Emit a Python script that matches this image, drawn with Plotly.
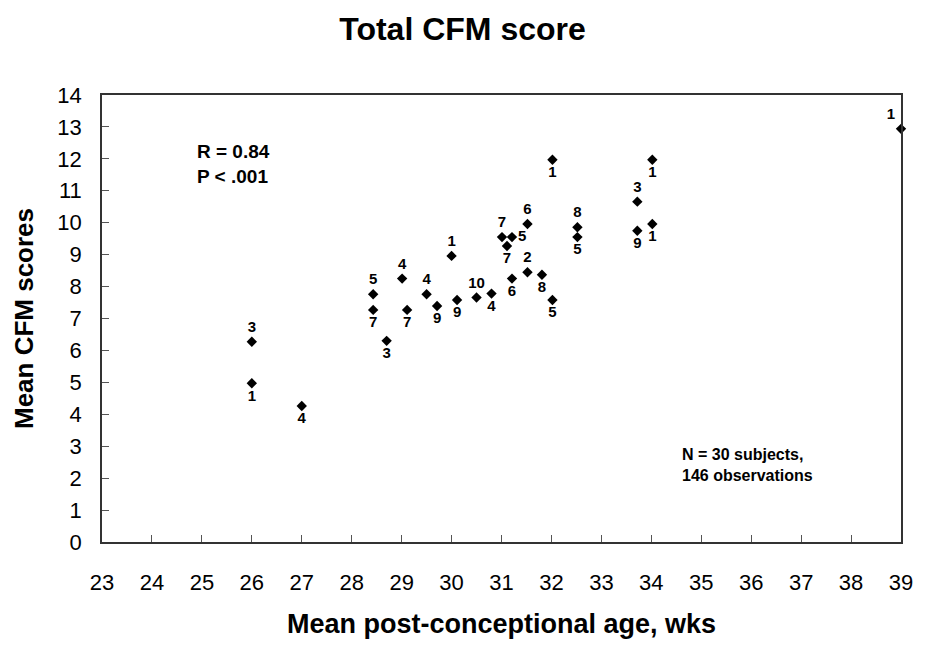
import plotly.graph_objects as go

# ---- data ----
age = [26.0, 26.0, 27.0, 28.43, 28.43, 28.7, 29.01, 29.11, 29.5, 29.71,
       30.0, 30.11, 30.5, 30.8, 31.01, 31.11, 31.21, 31.21, 31.52, 31.52,
       31.81, 32.02, 32.02, 32.52, 32.52, 33.72, 33.72, 34.02, 34.02, 39.0]
score = [6.27, 4.97, 4.26, 7.76, 7.27, 6.3, 8.25, 7.27, 7.76, 7.39,
         8.96, 7.58, 7.66, 7.78, 9.55, 9.27, 9.55, 8.25, 9.96, 8.45,
         8.37, 7.58, 11.97, 9.86, 9.55, 10.66, 9.75, 11.97, 9.96, 12.94]
obs_label = ["3", "1", "4", "5", "7", "3", "4", "7", "4", "9",
             "1", "9", "10", "4", "7", "7", "5", "6", "6", "2",
             "8", "5", "1", "8", "5", "3", "9", "1", "1", "1"]

x_ticks = list(range(23, 40))
y_ticks = list(range(0, 15))

# ---- style: where each label sits relative to its point ----
label_side = ["top center", "bottom center", "bottom center", "top center", "bottom center",
              "bottom center", "top center", "bottom center", "top center", "bottom center",
              "top center", "bottom center", "top center", "bottom center", "top center",
              "bottom center", "middle right", "bottom center", "top center", "top center",
              "bottom center", "bottom center", "bottom center", "top center", "bottom center",
              "top center", "bottom center", "bottom center", "bottom center", "top left"]

FONT = "Arial, 'Liberation Sans', sans-serif"

fig = go.Figure()
fig.add_trace(go.Scatter(
    x=age, y=score, mode="markers+text",
    text=obs_label, textposition=label_side,
    textfont=dict(family=FONT, size=15, color="black", weight="bold"),
    marker=dict(symbol="diamond", size=8, color="black"),
    cliponaxis=False, showlegend=False,
))

fig.add_annotation(x=0.117, y=0.845, xref="paper", yref="paper", xanchor="left", yanchor="middle",
                   text="<b>R = 0.84<br>P < .001</b>", align="left", showarrow=False,
                   font=dict(family=FONT, size=19, color="black"))
fig.add_annotation(x=0.724, y=0.172, xref="paper", yref="paper", xanchor="left", yanchor="middle",
                   text="<b>N = 30 subjects,<br>146 observations</b>", align="left", showarrow=False,
                   font=dict(family=FONT, size=16, color="black"))

axis_common = dict(showline=True, linecolor="#333", linewidth=1.5, mirror=True,
                   ticks="inside", ticklen=7, tickcolor="#555", tickwidth=1,
                   showgrid=False, zeroline=False,
                   tickfont=dict(family=FONT, size=22, color="black"))

fig.update_xaxes(range=[23, 39], tickvals=x_ticks, ticktext=[str(v) for v in x_ticks],
                 ticklabelstandoff=20,
                 title=dict(text="<b>Mean post-conceptional age, wks</b>", standoff=20,
                            font=dict(family=FONT, size=27, color="black")),
                 **axis_common)
fig.update_yaxes(range=[0, 14], tickvals=y_ticks, ticktext=[str(v) for v in y_ticks],
                 ticklabelstandoff=14,
                 title=dict(text="<b>Mean CFM scores</b>", standoff=16,
                            font=dict(family=FONT, size=26, color="black")),
                 **axis_common)

fig.update_layout(
    width=925, height=646,
    margin=dict(l=102, r=15, t=95, b=97),
    paper_bgcolor="white", plot_bgcolor="white",
    title=dict(text="<b>Total CFM score</b>", x=0.5, xanchor="center", y=0.955, yanchor="middle",
               font=dict(family=FONT, size=32, color="black")),
)

fig.write_html("out.html")
